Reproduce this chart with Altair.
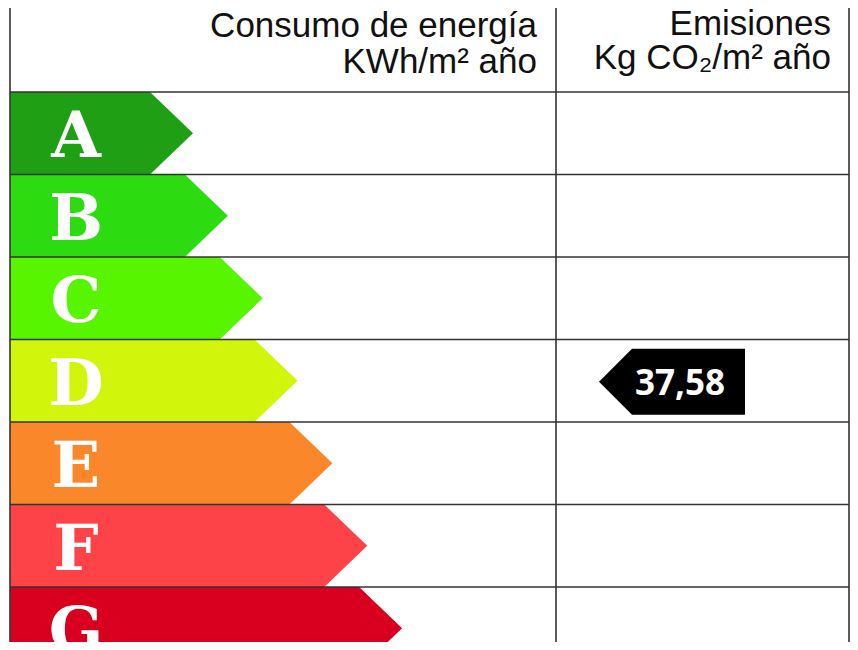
import altair as alt
import pandas as pd

# ---- data ----
classes = ["A", "B", "C", "D", "E", "F", "G"]
class_colors = ["#1E9F14", "#2DDC10", "#58F500", "#D2F50C", "#FA8729", "#FD4347", "#D9001F"]
header_left = ["Consumo de energía", "KWh/m² año"]
header_right = ["Emisiones", "Kg CO₂/m² año"]
emission_class = "D"
emission_value = "37,58"

# ---- layout constants (page pixels) ----
X0, X1 = 8, 850          # visible x domain
Y0, Y1 = 8, 642          # visible y domain
LEFT, MID, RIGHT = 10, 556, 849
HEAD = 92                # bottom of header row
ROW = 82.5               # row height
TIP0, TIPSTEP, DEPTH = 193, 34.85, 43

xs = alt.Scale(domain=[X0, X1], nice=False, zero=False)
ys = alt.Scale(domain=[Y0, Y1], nice=False, zero=False, reverse=True)

# arrows as horizontal areas: top / middle / bottom profile
arrow_rows = []
for i, c in enumerate(classes):
    top = HEAD + i * ROW
    tip = TIP0 + i * TIPSTEP
    body = tip - DEPTH
    for yy, xx in [(top, body), (top + ROW / 2, tip), (top + ROW, body)]:
        arrow_rows.append({"cls": c, "y": yy, "x": xx, "x0": LEFT})
arrows_df = pd.DataFrame(arrow_rows)

arrows = alt.Chart(arrows_df).mark_area(orient="horizontal", clip=True, interpolate="linear").encode(
    y=alt.Y("y:Q", scale=ys, axis=None),
    x=alt.X("x:Q", scale=xs, axis=None, stack=None),
    x2="x0:Q",
    color=alt.Color("cls:N", scale=alt.Scale(domain=classes, range=class_colors), legend=None),
    detail="cls:N",
)

letters_df = pd.DataFrame({
    "cls": classes,
    "y": [HEAD + i * ROW + ROW / 2 for i in range(len(classes))],
    "x": [76] * len(classes),
})
letters = alt.Chart(letters_df).mark_text(
    font="DejaVu Serif", fontWeight="bold", fontSize=64, color="white",
    align="center", baseline="alphabetic", dy=24,
).encode(x=alt.X("x:Q", scale=xs), y=alt.Y("y:Q", scale=ys), text="cls:N")

# grid lines
hl = pd.DataFrame({"y": [HEAD + i * ROW for i in range(len(classes) + 1)], "x": LEFT, "x2": RIGHT})
hlines = alt.Chart(hl).mark_rule(color="#333333", strokeWidth=1.6, clip=True).encode(
    x=alt.X("x:Q", scale=xs), x2="x2:Q", y=alt.Y("y:Q", scale=ys))
vl = pd.DataFrame({"x": [LEFT, MID, RIGHT], "y": Y0, "y2": Y1})
vlines = alt.Chart(vl).mark_rule(color="#333333", strokeWidth=1.6).encode(
    x=alt.X("x:Q", scale=xs), y=alt.Y("y:Q", scale=ys), y2="y2:Q")

# header texts
hdr = pd.DataFrame({
    "text": header_left + header_right,
    "x": [537, 537, 831, 831],
    "y": [37, 73, 35, 69],
})
headers = alt.Chart(hdr).mark_text(
    font="Liberation Sans", fontSize=35, color="#111111", align="right", baseline="alphabetic",
).encode(x=alt.X("x:Q", scale=xs), y=alt.Y("y:Q", scale=ys), text="text:N")

# emission indicator
ci = classes.index(emission_class)
mid_y = HEAD + ci * ROW + ROW / 2 + 1
half = 33
ind_df = pd.DataFrame({
    "y": [mid_y - half, mid_y, mid_y + half],
    "x": [632, 599, 632],
    "x2": [745, 745, 745],
})
indicator = alt.Chart(ind_df).mark_area(orient="horizontal", color="black", interpolate="linear").encode(
    y=alt.Y("y:Q", scale=ys), x=alt.X("x:Q", scale=xs, stack=None), x2="x2:Q")
ind_text = alt.Chart(pd.DataFrame({"t": [emission_value], "x": [680], "y": [mid_y]})).mark_text(
    font="Open Sans", fontWeight="bold", fontSize=35, color="white", align="center",
    baseline="alphabetic", dy=13,
).encode(x=alt.X("x:Q", scale=xs), y=alt.Y("y:Q", scale=ys), text="t:N")

chart = alt.layer(arrows, letters, hlines, vlines, headers, indicator, ind_text).properties(
    width=842, height=634, padding=0, autosize="none"
).configure_view(stroke=None)

chart.save("out.html", embed_options={"renderer": "svg", "actions": False})
